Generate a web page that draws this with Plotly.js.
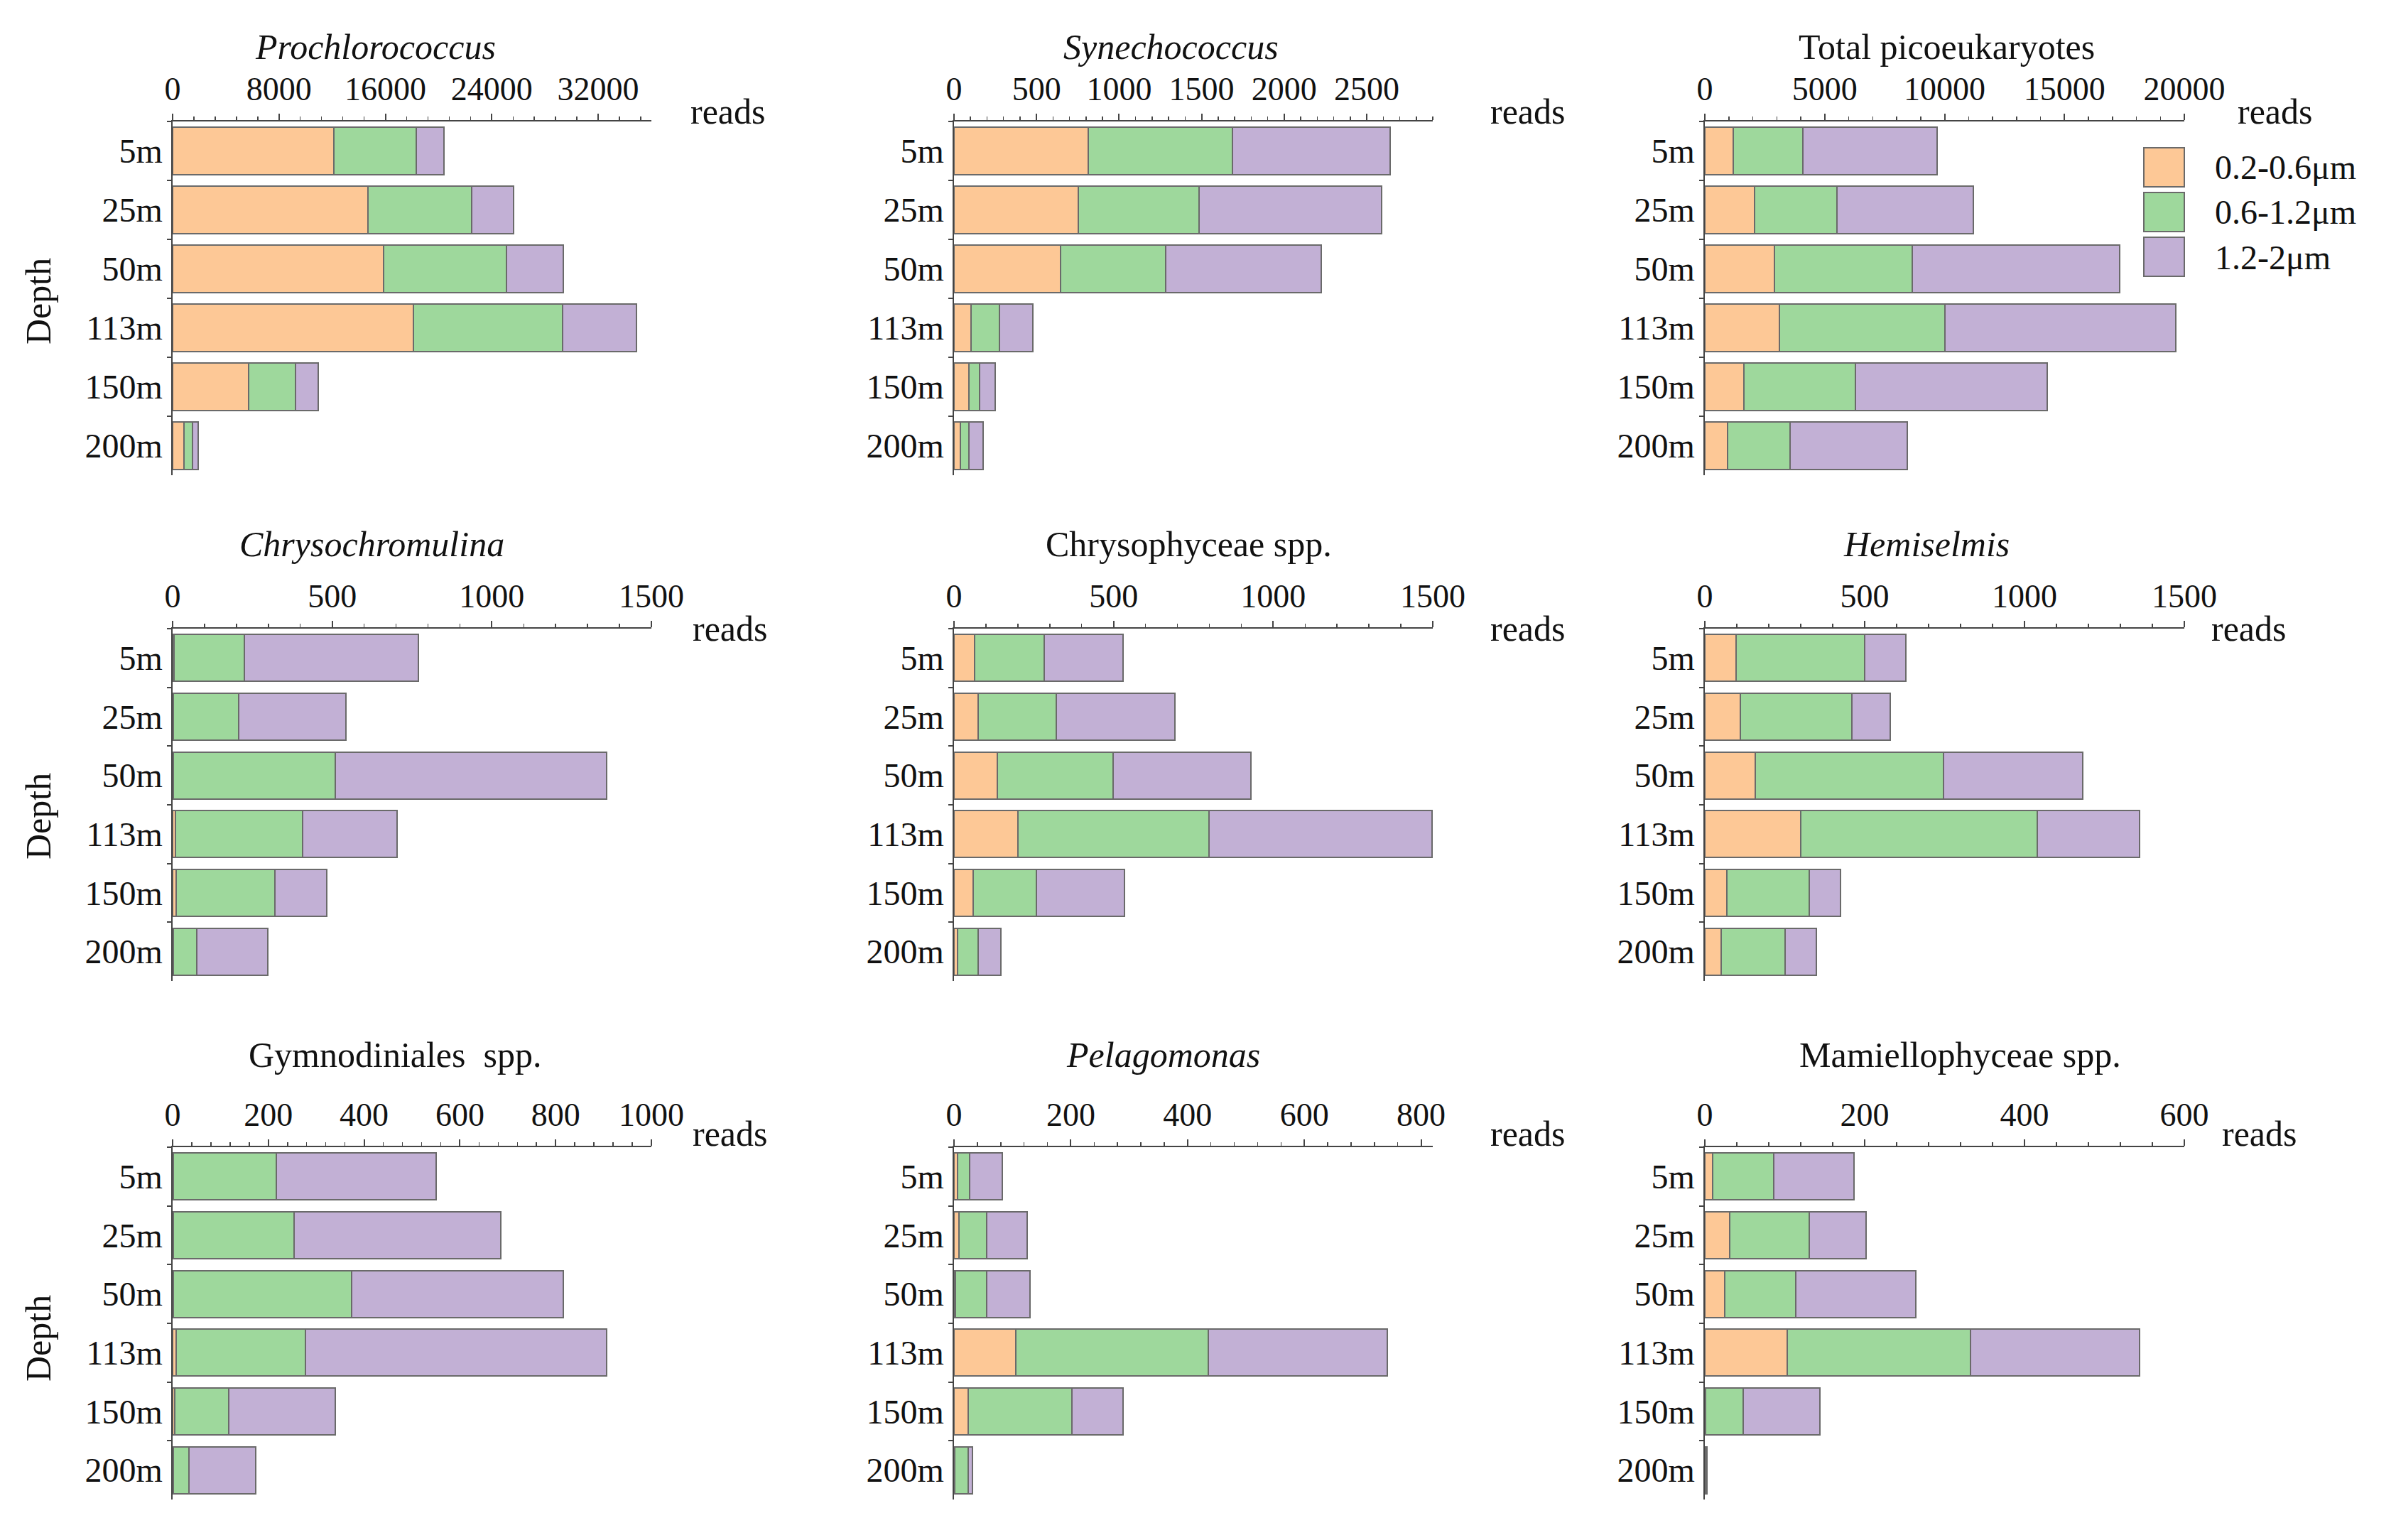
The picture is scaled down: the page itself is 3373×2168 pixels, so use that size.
<!DOCTYPE html>
<html>
<head>
<meta charset="utf-8">
<script src="https://cdn.plot.ly/plotly-3.0.1.min.js"></script>
<style>html,body{margin:0;padding:0;background:#fff;}#chart{width:3373px;height:2168px;}</style>
</head>
<body>
<div id="chart"></div>
<script>
// ---------- DATA ----------
const depths = ['5m', '25m', '50m', '113m', '150m', '200m'];
const sizeClasses = ['0.2-0.6\u03bcm', '0.6-1.2\u03bcm', '1.2-2\u03bcm'];
const panelTitles = ['<i>Prochlorococcus</i>', '<i>Synechococcus</i>', 'Total picoeukaryotes',
  '<i>Chrysochromulina</i>', 'Chrysophyceae spp.', '<i>Hemiselmis</i>',
  'Gymnodiniales\u00a0\u00a0spp.', '<i>Pelagomonas</i>', 'Mamiellophyceae spp.'];

const prochlorococcus_s1 = [12150, 14700, 15850, 18100, 5700, 830];
const prochlorococcus_s2 = [6150, 7800, 9250, 11200, 3550, 640];
const prochlorococcus_s3 = [2100, 3150, 4300, 5600, 1700, 430];

const synechococcus_s1 = [815, 753, 645, 102, 90, 37];
const synechococcus_s2 = [873, 732, 639, 173, 64, 53];
const synechococcus_s3 = [954, 1105, 941, 203, 96, 86];

const picoeuk_s1 = [1185, 2070, 2910, 3125, 1640, 950];
const picoeuk_s2 = [2890, 3450, 5755, 6875, 4655, 2605];
const picoeuk_s3 = [5600, 5690, 8640, 9634, 7995, 4890];

const chrysochromulina_s1 = [4, 2, 2, 10, 11, 2];
const chrysochromulina_s2 = [220, 204, 507, 398, 309, 73];
const chrysochromulina_s3 = [547, 338, 851, 296, 162, 224];

const chrysophyceae_s1 = [65, 75, 136, 200, 59, 11];
const chrysophyceae_s2 = [218, 246, 362, 599, 200, 64];
const chrysophyceae_s3 = [247, 371, 432, 698, 276, 72];

const hemiselmis_s1 = [98, 111, 158, 300, 68, 50];
const hemiselmis_s2 = [402, 350, 589, 739, 258, 202];
const hemiselmis_s3 = [129, 120, 435, 322, 98, 96];

const gymnodiniales_s1 = [1, 2, 2, 7, 5, 1];
const gymnodiniales_s2 = [216, 252, 372, 270, 112, 33];
const gymnodiniales_s3 = [333, 432, 442, 630, 223, 140];

const pelagomonas_s1 = [6, 9, 3, 106, 24, 1];
const pelagomonas_s2 = [21, 47, 53, 330, 178, 23];
const pelagomonas_s3 = [56, 69, 74, 306, 88, 8];

const mamiellophyceae_s1 = [10, 31, 25, 103, 1, 0];
const mamiellophyceae_s2 = [76, 100, 89, 229, 47, 1];
const mamiellophyceae_s3 = [101, 71, 150, 212, 96, 2];

// axis scales per panel: [max, major step, minor step]
const axisMax = [36000, 2900, 20000, 1500, 1500, 1500, 1000, 820, 600];
const axisStep = [8000, 500, 5000, 500, 500, 500, 200, 200, 200];
const axisMinor = [1600, 100, 1000, 100, 100, 100, 40, 40, 40];

// ---------- STYLE / LAYOUT ----------
const panels = [
  [prochlorococcus_s1, prochlorococcus_s2, prochlorococcus_s3],
  [synechococcus_s1, synechococcus_s2, synechococcus_s3],
  [picoeuk_s1, picoeuk_s2, picoeuk_s3],
  [chrysochromulina_s1, chrysochromulina_s2, chrysochromulina_s3],
  [chrysophyceae_s1, chrysophyceae_s2, chrysophyceae_s3],
  [hemiselmis_s1, hemiselmis_s2, hemiselmis_s3],
  [gymnodiniales_s1, gymnodiniales_s2, gymnodiniales_s3],
  [pelagomonas_s1, pelagomonas_s2, pelagomonas_s3],
  [mamiellophyceae_s1, mamiellophyceae_s2, mamiellophyceae_s3]
];
const colors = ['#FDC896', '#9ED89C', '#C2B0D5'];
const W = 3373, H = 2168;
const colX = [[243, 917], [1343, 2017], [2400, 3075]];
const rowY = [[171, 669], [885, 1381], [1615, 2111]];
const titleX = [528, 1648, 2740, 523, 1673, 2712, 556, 1637, 2759];
const titleY = [66, 766, 1485];
const readsX = [970, 2096, 3148, 973, 2096, 3111, 973, 2096, 3126];
const readsY = [157, 885, 1596];
const depthY = [424, 1149, 1884];
const FONT = 'Liberation Serif, Times New Roman, serif';
const TXT = '#111111';
const AX = '#444444';

const data = [];
const layout = {
  width: W, height: H,
  margin: {l: 0, r: 0, t: 0, b: 0},
  paper_bgcolor: '#ffffff', plot_bgcolor: '#ffffff',
  barmode: 'stack', bargap: 0.2,
  showlegend: false,
  font: {family: FONT, color: TXT, size: 45},
  annotations: [], shapes: []
};

panels.forEach((series, i) => {
  const k = i + 1;
  const suf = k === 1 ? '' : String(k);
  const r = Math.floor(i / 3), c = i % 3;
  series.forEach((vals, s) => {
    data.push({
      type: 'bar', orientation: 'h',
      x: vals, y: depths,
      name: sizeClasses[s],
      xaxis: 'x' + suf, yaxis: 'y' + suf,
      marker: {color: colors[s], line: {color: '#6a6a6a', width: 2}},
      hoverinfo: 'x+y+name'
    });
  });
  layout['xaxis' + suf] = {
    domain: [colX[c][0] / W, colX[c][1] / W],
    anchor: 'y' + suf, side: 'top',
    range: [0, axisMax[i]], dtick: axisStep[i], tick0: 0,
    tickformat: 'd', showgrid: false, zeroline: false,
    showline: true, linecolor: AX, linewidth: 2.5,
    ticks: 'outside', ticklen: 9, tickwidth: 2, tickcolor: AX,
    minor: {dtick: axisMinor[i], tick0: 0, ticks: 'outside', ticklen: 5, tickwidth: 1.5, tickcolor: AX, showgrid: false},
    tickfont: {family: FONT, size: 46, color: TXT},
    ticklabelstandoff: 0, fixedrange: true
  };
  layout['yaxis' + suf] = {
    domain: [1 - rowY[r][1] / H, 1 - rowY[r][0] / H],
    anchor: 'x' + suf, type: 'category',
    categoryorder: 'array', categoryarray: depths,
    range: [depths.length - 0.5, -0.5],
    showgrid: false, zeroline: false,
    showline: true, linecolor: AX, linewidth: 2.5,
    ticks: 'outside', tickson: 'boundaries', ticklen: 6, tickwidth: 2, tickcolor: AX,
    tickfont: {family: FONT, size: 48, color: TXT},
    ticklabelstandoff: 2, fixedrange: true
  };
  layout.annotations.push({
    xref: 'paper', yref: 'paper', x: titleX[i] / W, y: 1 - titleY[r] / H,
    xanchor: 'center', yanchor: 'middle', showarrow: false,
    text: panelTitles[i], font: {family: FONT, size: 50, color: TXT}
  });
  layout.annotations.push({
    xref: 'paper', yref: 'paper', x: readsX[i] / W, y: 1 - readsY[r] / H,
    xanchor: 'left', yanchor: 'middle', showarrow: false,
    text: 'reads', font: {family: FONT, size: 50, color: TXT}
  });
  if (c === 0) {
    layout.annotations.push({
      xref: 'paper', yref: 'paper', x: 54 / W, y: 1 - depthY[r] / H,
      xanchor: 'center', yanchor: 'middle', showarrow: false, textangle: -90,
      text: 'Depth', font: {family: FONT, size: 50, color: TXT}
    });
  }
});

// legend (drawn as swatches + text in the top-right panel)
const legTop = [208, 271, 334];
sizeClasses.forEach((lab, s) => {
  layout.shapes.push({
    type: 'rect', xref: 'paper', yref: 'paper',
    x0: 3018 / W, x1: 3075 / W,
    y0: 1 - (legTop[s] + 55) / H, y1: 1 - legTop[s] / H,
    fillcolor: colors[s], line: {color: '#6a6a6a', width: 2}
  });
  layout.annotations.push({
    xref: 'paper', yref: 'paper', x: 3116 / W, y: 1 - (legTop[s] + 28) / H,
    xanchor: 'left', yanchor: 'middle', showarrow: false,
    text: lab, font: {family: FONT, size: 48, color: TXT}
  });
});

Plotly.newPlot('chart', data, layout, {staticPlot: true, displayModeBar: false});
</script>
</body>
</html>
